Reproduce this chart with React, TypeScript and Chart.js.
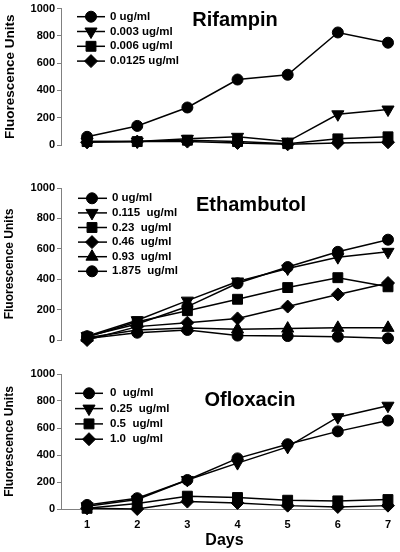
import React, { useEffect, useRef } from 'react';
import { Chart, registerables } from 'chart.js';
import { drawPoint } from 'chart.js/helpers';

Chart.register(...registerables);

const FONT = '"Liberation Sans", Arial, Helvetica, sans-serif';

// ---------- data ----------
const days = [1, 2, 3, 4, 5, 6, 7];

const rifLabels = ['0 ug/ml', '0.003 ug/ml', '0.006 ug/ml', '0.0125 ug/ml'];
const rif0 = [60, 140, 275, 480, 515, 825, 750];
const rif003 = [25, 25, 45, 60, 25, 225, 260];
const rif006 = [25, 25, 35, 25, 10, 45, 60];
const rif0125 = [20, 25, 25, 15, 5, 15, 20];

const ethLabels = ['0 ug/ml', '0.115  ug/ml', '0.23  ug/ml', '0.46  ug/ml', '0.93  ug/ml', '1.875  ug/ml'];
const eth0 = [25, 105, 220, 373, 480, 580, 660];
const eth0115 = [25, 130, 259, 385, 470, 545, 580];
const eth023 = [20, 120, 193, 268, 345, 410, 350];
const eth046 = [0, 88, 114, 142, 220, 300, 375];
const eth093 = [15, 66, 79, 70, 75, 80, 80];
const eth1875 = [10, 48, 66, 29, 26, 22, 11];

const oflLabels = ['0  ug/ml', '0.25  ug/ml', '0.5  ug/ml', '1.0  ug/ml'];
const ofl0 = [30, 80, 215, 375, 480, 575, 655];
const ofl025 = [20, 70, 215, 340, 460, 680, 765];
const ofl05 = [5, 40, 95, 85, 65, 60, 70];
const ofl10 = [5, 0, 55, 45, 25, 15, 25];

const yMin = 0;
const yMax = 1000;
const yStep = 200;

// ---------- styles ----------
type Marker = { style: string; rotation: number; radius: number };
const CIRCLE: Marker = { style: 'circle', rotation: 0, radius: 5.5 };
const TRI_DOWN: Marker = { style: 'triangle', rotation: 180, radius: 7 };
const TRI_UP: Marker = { style: 'triangle', rotation: 0, radius: 7 };
const SQUARE: Marker = { style: 'rect', rotation: 0, radius: 7 };
const DIAMOND: Marker = { style: 'rectRot', rotation: 0, radius: 6.5 };

type Panel = {
  labels: string[];
  series: number[][];
  markers: Marker[];
  top: number;
  height: number;
  padTop: number;
  padBottom: number;
  showX: boolean;
  yTitleSize: number;
  title: string;
  titleX: number;
  titleY: number;
  legendY: number;
  legendGap: number;
  lineX0: number;
  lineX1: number;
  markX: number;
  textX: number;
};

const panels: Panel[] = [
  {
    labels: rifLabels,
    series: [rif0, rif003, rif006, rif0125],
    markers: [CIRCLE, TRI_DOWN, SQUARE, DIAMOND],
    top: 0, height: 160, padTop: 7, padBottom: 15, showX: false, yTitleSize: 13.5,
    title: 'Rifampin', titleX: 235, titleY: 20,
    legendY: 16.7, legendGap: 14.8, lineX0: 77, lineX1: 105, markX: 91, textX: 110,
  },
  {
    labels: ethLabels,
    series: [eth0, eth0115, eth023, eth046, eth093, eth1875],
    markers: [CIRCLE, TRI_DOWN, SQUARE, DIAMOND, TRI_UP, CIRCLE],
    top: 160, height: 192, padTop: 28, padBottom: 12, showX: false, yTitleSize: 12,
    title: 'Ethambutol', titleX: 251, titleY: 45,
    legendY: 38.3, legendGap: 14.6, lineX0: 78, lineX1: 107, markX: 92, textX: 112,
  },
  {
    labels: oflLabels,
    series: [ofl0, ofl025, ofl05, ofl10],
    markers: [CIRCLE, TRI_DOWN, SQUARE, DIAMOND],
    top: 352, height: 200, padTop: 22, padBottom: 0, showX: true, yTitleSize: 12,
    title: 'Ofloxacin', titleX: 250, titleY: 48,
    legendY: 41.3, legendGap: 15.3, lineX0: 75, lineX1: 103, markX: 89, textX: 110,
  },
];

const decorPlugin = {
  id: 'decor',
  afterDraw(chart: any, _args: any, opts: any) {
    const ctx: CanvasRenderingContext2D = chart.ctx;
    ctx.save();
    ctx.fillStyle = '#000';
    ctx.strokeStyle = '#000';
    ctx.font = `bold 20px ${FONT}`;
    ctx.textAlign = 'center';
    ctx.textBaseline = 'middle';
    ctx.fillText(opts.title, opts.titleX, opts.titleY);
    ctx.font = `bold 11.5px ${FONT}`;
    ctx.textAlign = 'left';
    chart.data.datasets.forEach((ds: any, i: number) => {
      const y = opts.legendY + i * opts.legendGap;
      ctx.lineWidth = 1.5;
      ctx.beginPath();
      ctx.moveTo(opts.lineX0, y);
      ctx.lineTo(opts.lineX1, y);
      ctx.stroke();
      ctx.lineWidth = 1;
      drawPoint(
        ctx,
        { pointStyle: ds.pointStyle, rotation: ds.pointRotation, radius: ds.pointRadius, borderWidth: 1 } as any,
        opts.markX,
        y
      );
      ctx.fillText(ds.label, opts.textX, y);
    });
    ctx.restore();
  },
};

function buildConfig(p: Panel): any {
  return {
    type: 'line',
    data: {
      datasets: p.series.map((vals, i) => ({
        label: p.labels[i],
        data: days.map((d, j) => ({ x: d, y: vals[j] })),
        borderColor: '#000',
        backgroundColor: '#000',
        borderWidth: 1.5,
        pointStyle: p.markers[i].style,
        pointRotation: p.markers[i].rotation,
        pointRadius: p.markers[i].radius,
        pointBorderWidth: 1,
        pointBackgroundColor: '#000',
        pointBorderColor: '#000',
        tension: 0,
        clip: false,
      })),
    },
    options: {
      responsive: false,
      maintainAspectRatio: false,
      animation: false,
      devicePixelRatio: 1,
      layout: { padding: { top: p.padTop, bottom: p.padBottom, left: 0, right: 12 } },
      plugins: {
        legend: { display: false },
        tooltip: { enabled: false },
        decor: {
          title: p.title, titleX: p.titleX, titleY: p.titleY,
          legendY: p.legendY, legendGap: p.legendGap,
          lineX0: p.lineX0, lineX1: p.lineX1, markX: p.markX, textX: p.textX,
        },
      },
      scales: {
        x: {
          type: 'linear',
          display: p.showX,
          min: 0.48,
          max: 7,
          afterBuildTicks: (s: any) => {
            s.ticks = days.map((d) => ({ value: d }));
          },
          afterFit: (s: any) => {
            if (p.showX) s.height = 43;
          },
          ticks: {
            color: '#000',
            padding: 9,
            font: { family: FONT, size: 11, weight: 'bold' },
            callback: (v: any) => String(v),
          },
          grid: { display: false, drawTicks: false },
          border: { display: true, color: '#808080', width: 1 },
          title: {
            display: true,
            text: 'Days',
            color: '#000',
            font: { family: FONT, size: 16, weight: 'bold' },
            padding: { top: 0, bottom: 1.5 },
          },
        },
        y: {
          min: yMin,
          max: yMax,
          afterFit: (s: any) => {
            s.width = 61;
          },
          ticks: {
            stepSize: yStep,
            color: '#000',
            padding: 2,
            font: { family: FONT, size: 11, weight: 'bold' },
            callback: (v: any) => String(v),
          },
          grid: { drawOnChartArea: false, drawTicks: true, tickLength: 4, color: '#808080' },
          border: { display: true, color: '#808080', width: 1 },
          title: {
            display: true,
            text: 'Fluorescence Units',
            color: '#000',
            font: { family: FONT, size: p.yTitleSize, weight: 'bold' },
            padding: { top: 2, bottom: 0 },
          },
        },
      },
    },
    plugins: [decorPlugin],
  };
}

export default function App() {
  const canvases = useRef<(HTMLCanvasElement | null)[]>([]);

  useEffect(() => {
    const charts = panels.map((p, i) => new Chart(canvases.current[i] as HTMLCanvasElement, buildConfig(p)));
    return () => {
      charts.forEach((c) => c.destroy());
    };
  }, []);

  return (
    <div style={{ position: 'absolute', left: 0, top: 0, width: 400, height: 552, background: '#fff' }}>
      {panels.map((p, i) => (
        <canvas
          key={i}
          ref={(el) => {
            canvases.current[i] = el;
          }}
          width={400}
          height={p.height}
          style={{ position: 'absolute', left: 0, top: p.top, width: 400, height: p.height }}
        />
      ))}
    </div>
  );
}
